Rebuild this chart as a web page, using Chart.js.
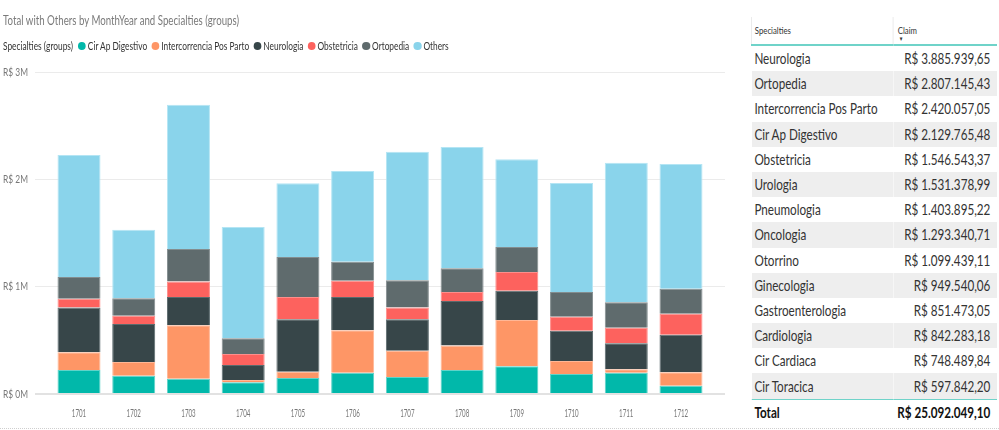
<!DOCTYPE html>
<html>
<head>
<meta charset="utf-8">
<script src="https://cdn.jsdelivr.net/npm/chart.js@4.4.1/dist/chart.umd.min.js"></script>
<style>
  html, body { margin: 0; padding: 0; background: #fff; }
  body { width: 999px; height: 430px; overflow: hidden; font-family: Lato, "Liberation Sans", sans-serif; }
  #wrap { position: relative; width: 999px; height: 430px; }
  #chartBox { position: absolute; left: 0; top: 0; width: 740px; height: 430px; }
  #title { position: absolute; left: 3px; top: 13px; font-size: 13px; line-height: 15px; color: #7a7a7a; white-space: nowrap; transform-origin: 0 0; }
  #legend { position: absolute; left: 3px; top: 39px; font-size: 12px; line-height: 14px; color: #333; white-space: nowrap; display: flex; align-items: center; transform-origin: 0 0; }
  #legend .lt { margin-right: 7px; }
  #legend .it { display: flex; align-items: center; margin-right: 6px; }
  #legend .dot { height: 8px; border-radius: 50%; margin-right: 2px; display: inline-block; }
  #table { position: absolute; left: 751px; top: 17px; border-collapse: collapse; table-layout: fixed; transform-origin: 0 0; }
  #table th { height: 20px; font-weight: normal; font-size: 10px; color: #333; text-align: left; vertical-align: top; padding: 7px 0 0 0; border-bottom: 2px solid #6fd3c9; }
  #table th.c1 { border-left: 1px solid #e6e6e6; }
  #table th.c2 { border-left: 1px solid #e6e6e6; position: relative; }
  #table th.c2 .arr { position: absolute; top: 18px; font-size: 6px; color: #333; }
  #table td { height: 25.2px; padding: 0; font-size: 15px; color: #333; line-height: 25px; white-space: nowrap; overflow: hidden; }
  #table td.v { text-align: right; }
  #table tr.alt td { background: #eeeeee; }
  #table tr.tot td { font-weight: bold; color: #111; border-top: 1px solid #6fd3c9; height: 24.2px; }
  #dots { position: absolute; left: 0; top: 428px; width: 999px; border-top: 1px dotted #cfcfcf; }
</style>
</head>
<body>
<div id="wrap">
  <div id="chartBox"><canvas id="c" width="740" height="430"></canvas></div>
  <div id="title"></div>
  <div id="legend"></div>
  <table id="table"></table>
  <div id="dots"></div>
</div>
<script>
// ---- chart data ----
const months = ['1701','1702','1703','1704','1705','1706','1707','1708','1709','1710','1711','1712'];
const cirApDigestivo   = [224000, 171000, 143000, 109000, 149000, 199000, 158000, 224000, 258000, 186000, 199000,  78000];
const intercorrencia   = [164000, 127000, 497000,  21000,  59000, 394000, 246000, 229000, 431000, 121000,  31000, 124000];
const neurologia       = [419000, 354000, 264000, 140000, 488000, 311000, 292000, 413000, 274000, 283000, 242000, 351000];
const obstetricia      = [ 81000,  78000, 143000, 103000, 208000, 152000, 111000,  84000, 174000, 130000, 146000, 195000];
const ortopedia        = [202000, 161000, 304000, 146000, 372000, 177000, 252000, 221000, 233000, 230000, 236000, 233000];
const others           = [1137000, 640000, 1345000, 1037000, 687000, 845000, 1199000, 1130000, 816000, 1016000, 1301000, 1162000];
const seriesNames = ['Cir Ap Digestivo', 'Intercorrencia Pos Parto', 'Neurologia', 'Obstetricia', 'Ortopedia', 'Others'];
const yTicks = [0, 1000000, 2000000, 3000000];

// ---- table data ----
const tableNames  = ['Neurologia','Ortopedia','Intercorrencia Pos Parto','Cir Ap Digestivo','Obstetricia','Urologia','Pneumologia','Oncologia','Otorrino','Ginecologia','Gastroenterologia','Cardiologia','Cir Cardiaca','Cir Toracica'];
const tableClaims = [3885939.65, 2807145.43, 2420057.05, 2129765.48, 1546543.37, 1531378.99, 1403895.22, 1293340.71, 1099439.11, 949540.06, 851473.05, 842283.18, 748489.84, 597842.20];
const tableTotal  = 25092049.10;

const titleText = 'Total with Others by MonthYear and Specialties (groups)';
const legendTitle = 'Specialties (groups)';

// ---- styles ----
const fills   = ['#01B8AA', '#FE9666', '#374649', '#FD625E', '#5F6B6D', '#8AD4EB'];
const borders = ['#5fd3c9', '#ffb796', '#5b6a6d', '#fe8e8b', '#838d8f', '#b4e5f4'];
const FONT = "Lato, 'Liberation Sans', sans-serif";

function brl(v) {
  const parts = v.toFixed(2).split('.');
  const intPart = parts[0].replace(/\B(?=(\d{3})+(?!\d))/g, '.');
  return 'R$ ' + intPart + ',' + parts[1];
}
function yLabel(v) { return 'R$ ' + (v / 1000000) + 'M'; }
function xLabel(v) { return Number.isInteger(v) && months[v] ? months[v] : ''; }

// ---- title & legend (condensed to the reference widths) ----
const titleEl = document.getElementById('title');
titleEl.textContent = titleText;
titleEl.style.transform = 'scaleX(' + (236 / titleEl.offsetWidth) + ')';

const lg = document.getElementById('legend');
lg.innerHTML = '<span class="lt">' + legendTitle + '</span>' +
  seriesNames.map((n, i) => '<span class="it"><span class="dot" style="background:' + fills[i] + '"></span>' + n + '</span>').join('');
let kl = 0.75;
for (let it = 0; it < 4; it++) {
  lg.querySelectorAll('.dot').forEach(d => { d.style.width = (8 / kl) + 'px'; d.style.marginRight = (2 / kl) + 'px'; });
  kl = 450 / lg.offsetWidth;
}
lg.style.transform = 'scaleX(' + kl + ')';

// ---- table ----
const probe = document.createElement('span');
probe.style.cssText = 'position:absolute;visibility:hidden;font-size:15px;white-space:nowrap;font-family:' + FONT;
probe.textContent = 'Intercorrencia Pos Parto';
document.body.appendChild(probe);
const kt = 123 / probe.offsetWidth;
probe.remove();

const tbl = document.getElementById('table');
let html = '<colgroup><col style="width:' + (142 / kt) + 'px"><col style="width:' + (104 / kt) + 'px"></colgroup>';
html += '<tr><th class="c1" style="padding-left:' + (3 / kt) + 'px">Specialties</th><th class="c2" style="padding-left:' + (4 / kt) + 'px">Claim<span class="arr" style="left:' + (5 / kt) + 'px">&#9660;</span></th></tr>';
tableNames.forEach((n, i) => {
  html += '<tr class="' + (i % 2 ? 'alt' : '') + '"><td style="padding-left:' + (3 / kt) + 'px">' + n + '</td><td class="v" style="padding-right:' + (7 / kt) + 'px">' + brl(tableClaims[i]) + '</td></tr>';
});
html += '<tr class="tot"><td style="padding-left:' + (3 / kt) + 'px">Total</td><td class="v" style="padding-right:' + (7 / kt) + 'px">' + brl(tableTotal) + '</td></tr>';
tbl.innerHTML = html;
tbl.style.width = (246 / kt) + 'px';
tbl.style.transform = 'scaleX(' + kt + ')';

// ---- condensed axis labels drawn at the library's tick positions ----
const condensedTicks = {
  id: 'condensedTicks',
  afterDraw(chart) {
    const ctx = chart.ctx;
    const xs = chart.scales.x, ys = chart.scales.y;
    ctx.save();
    ctx.fillStyle = '#777';
    ctx.font = '11px ' + FONT;
    ctx.textBaseline = 'middle';
    const kx = 14.3 / ctx.measureText(months[0]).width;
    xs.ticks.forEach(t => {
      const lbl = xLabel(t.value);
      if (!lbl) return;
      ctx.save();
      ctx.translate(xs.getPixelForValue(t.value), xs.top + 19);
      ctx.scale(kx, 1);
      ctx.textAlign = 'center';
      ctx.fillText(lbl, 0, 0);
      ctx.restore();
    });
    const ky = 25 / ctx.measureText(yLabel(3000000)).width;
    ys.ticks.forEach(t => {
      ctx.save();
      ctx.translate(ys.right - 7, ys.getPixelForValue(t.value));
      ctx.scale(ky, 1);
      ctx.textAlign = 'right';
      ctx.fillText(yLabel(t.value), 0, 0);
      ctx.restore();
    });
    ctx.restore();
  }
};

// ---- chart ----
const seriesValues = [cirApDigestivo, intercorrencia, neurologia, obstetricia, ortopedia, others];
new Chart(document.getElementById('c'), {
  type: 'bar',
  data: {
    datasets: seriesValues.map((vals, i) => ({
      label: seriesNames[i],
      data: vals.map((v, j) => ({ x: j, y: v })),
      backgroundColor: fills[i],
      borderColor: borders[i],
      borderWidth: 1,
      barPercentage: 0.786,
      categoryPercentage: 1
    }))
  },
  plugins: [condensedTicks],
  options: {
    responsive: false,
    animation: false,
    layout: { padding: { top: 72, right: 15, bottom: 0, left: 0 } },
    plugins: { legend: { display: false }, title: { display: false }, tooltip: { enabled: false } },
    scales: {
      x: {
        type: 'linear', stacked: true, offset: false, min: -0.804, max: months.length - 1 + 0.804,
        grid: { display: false }, border: { display: false },
        ticks: { display: false, stepSize: 1, includeBounds: false, autoSkip: false, callback: v => xLabel(v) },
        afterFit: s => { s.height = 36; }
      },
      y: {
        stacked: true, min: yTicks[0], max: yTicks[yTicks.length - 1],
        grid: {
          color: c => c.tick && c.tick.value === 0 ? '#e2e2e2' : '#ebebeb',
          lineWidth: c => c.tick && c.tick.value === 0 ? 2 : 1,
          drawTicks: false
        },
        border: { display: false },
        ticks: { display: false, stepSize: 1000000, callback: v => yLabel(v) },
        afterFit: s => { s.width = 35; }
      }
    }
  }
});
</script>
</body>
</html>
